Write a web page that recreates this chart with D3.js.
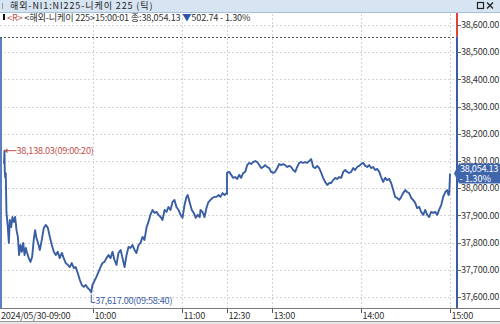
<!DOCTYPE html>
<html><head><meta charset="utf-8">
<script src="https://cdn.jsdelivr.net/npm/d3@7"></script>
<style>
html,body{margin:0;padding:0;background:#fff;}
svg{display:block;}
text{font-family:"Noto Sans CJK KR","Noto Sans",sans-serif;}
</style></head>
<body><svg id="c" width="500" height="324"></svg>
<script>
// ---- data ----
const times = ["09:00:00","09:00:20","09:00:30","09:00:50","09:01:10","09:01:40","09:02:35","09:03:15","09:03:55","09:04:50",
"09:05:40","09:06:35","09:07:30","09:08:25","09:09:20","09:10:10","09:11:05","09:12:00","09:12:55","09:13:50",
"09:14:40","09:15:35","09:16:40","09:17:48","09:18:55","09:20:00","09:20:55","09:21:50","09:22:44","09:24:05",
"09:25:25","09:26:45","09:28:05","09:29:30","09:30:50","09:32:10","09:33:30","09:34:50","09:36:10","09:37:30",
"09:38:55","09:40:10","09:41:30","09:42:55","09:44:15","09:45:35","09:46:55","09:48:15","09:49:35","09:51:00",
"09:52:20","09:53:40","09:55:00","09:56:20","09:57:40","09:58:40","09:59:30","10:02:10","10:03:35","10:04:55",
"10:06:15","10:07:35","10:08:55","10:10:20","10:11:40","10:13:00","10:14:20","10:15:40","10:17:00","10:18:25",
"10:19:45","10:21:05","10:22:25","10:23:45","10:25:05","10:26:25","10:27:50","10:29:05","10:30:30","10:31:50",
"10:33:10","10:34:30","10:35:55","10:37:10","10:38:30","10:39:55","10:41:15","10:42:35","10:43:55","10:45:20",
"10:46:35","10:48:00","10:49:20","10:50:35","10:52:00","10:53:20","10:54:40","10:56:00","10:57:25","10:58:45",
"11:00:05","11:01:25","11:02:45","11:03:35","11:05:00","11:06:20","11:07:40","11:09:00","11:10:20","11:11:40",
"11:12:10","11:13:30","11:14:55","11:16:10","11:17:30","11:18:55","11:20:10","11:21:35","11:22:55","11:24:20",
"11:25:35","11:27:00","11:28:20","11:29:40","11:30:00",
"12:30:00","12:31:30","12:32:50","12:34:10","12:35:30","12:36:55","12:38:10","12:39:30","12:40:55","12:42:15",
"12:43:35","12:44:55","12:46:15","12:47:35","12:49:00","12:50:20","12:51:40","12:53:00","12:54:20","12:55:40",
"12:57:00","12:58:25","12:59:40","13:01:05","13:02:25","13:03:50","13:05:05","13:06:30","13:07:50","13:09:05",
"13:10:30","13:11:50","13:13:10","13:14:30","13:15:55","13:17:10","13:18:35","13:19:55","13:21:20","13:22:35",
"13:23:55","13:25:20","13:26:35","13:28:00","13:29:20","13:30:40","13:32:00","13:33:25","13:34:40","13:36:05",
"13:37:25","13:38:50","13:40:05","13:41:25","13:42:50","13:44:05","13:45:30","13:46:50","13:48:10","13:49:30",
"13:50:50","13:52:10","13:53:30","13:54:55","13:56:10","13:57:35","13:58:55","14:00:20","14:01:35","14:03:00",
"14:04:20","14:05:35","14:07:00","14:08:20","14:09:40","14:11:00","14:12:25","14:13:40","14:15:05","14:16:25",
"14:17:40","14:19:05","14:20:25","14:21:50","14:23:05","14:24:30","14:25:50","14:27:10","14:28:30","14:29:55",
"14:31:10","14:32:30","14:33:55","14:35:10","14:36:35","14:37:55","14:39:20","14:40:35","14:42:00","14:43:20",
"14:44:40","14:46:00","14:47:20","14:48:40","14:50:00","14:51:25","14:52:40","14:54:05","14:55:25","14:56:50",
"14:58:05","14:59:00","14:59:30","15:00:01"];
const prices = [38090,38138.03,38065,38040,38055,37909,37857,37799,37883,37857,
37894,37876,37894,37846,37821,37754,37791,37766,37799,37754,
37780,37762,37743,37729,37747,37810,37846,37817,37802,37773,
37810,37854,37865,37854,37821,37791,37766,37754,37766,37743,
37762,37743,37725,37718,37710,37725,37707,37710,37688,37663,
37644,37637,37644,37633,37626,37617,37644,37674,37692,37710,
37725,37729,37743,37754,37743,37766,37736,37718,37762,37773,
37743,37710,37754,37784,37780,37791,37773,37762,37791,37799,
37821,37810,37857,37876,37902,37920,37909,37913,37902,37894,
37883,37920,37913,37931,37920,37949,37957,37931,37920,37902,
37891,37938,37968,37975,37946,37920,37909,37891,37902,37894,
37920,37913,37894,37927,37949,37957,37964,37968,37968,37975,
37968,37982,37975,37982,37980,
38056,38060,38049,38038,38041,38034,38049,38038,38056,38060,
38085,38093,38089,38096,38100,38096,38085,38074,38078,38085,
38078,38074,38060,38056,38060,38074,38089,38085,38089,38085,
38078,38082,38078,38067,38060,38078,38093,38096,38093,38096,
38093,38100,38107,38078,38074,38082,38074,38056,38038,38023,
38012,38019,38019,38030,38038,38034,38041,38038,38060,38067,
38060,38056,38060,38074,38067,38078,38082,38089,38093,38082,
38078,38085,38074,38078,38067,38071,38060,38041,38023,38038,
38030,38034,38019,37993,37968,37964,37957,37968,37982,37993,
37986,37982,37964,37957,37946,37927,37931,37913,37902,37920,
37902,37894,37913,37909,37913,37902,37920,37938,37968,37986,
37993,37975,37980,38054.13];
const yTicks = [38600,38500,38400,38300,38200,38100,38000,37900,37800,37700,37600];
const xTickTimes = ["09:00","10:00","11:00","12:30","13:00","14:00","15:00"];
const xTickLabels = ["2024/05/30-09:00","10:00","11:00","12:30","13:00","14:00","15:00"];
const prevClose = 38556.87;
const lastPrice = 38054.13, change = 502.74, changePct = "- 1.30%";
const highLabel = "38,138.03(09:00:20)", highPrice = 38138.03, highTime = "09:00:20";
const lowLabel = "37,617.00(09:58:40)", lowPrice = 37617, lowTime = "09:58:40";

// ---- helpers ----
function tradeMin(t){
  const p=t.split(":").map(Number); const s=p[0]*3600+p[1]*60+(p[2]||0);
  const am=9*3600, amEnd=11.5*3600, pm=12.5*3600;
  return s<=amEnd ? (s-am)/60 : 150+(s-pm)/60;
}
const svg=d3.select("#c");
const x=d3.scaleLinear().domain([0,300]).range([4,450]);
const y=d3.scaleLinear().domain([37600,38600]).range([297,25]);
const fmt=d3.format(",.2f");
const blue="#3a5ea4", red="#c0504d";

svg.append("rect").attr("x",0).attr("y",0).attr("width",500).attr("height",324).attr("fill","#fff");

// grid
const g=svg.append("g");
g.selectAll("line.h").data(yTicks).join("line")
 .attr("x1",0).attr("x2",456).attr("y1",d=>Math.round(y(d))+0.5).attr("y2",d=>Math.round(y(d))+0.5)
 .attr("stroke","#d4d4d4").attr("stroke-dasharray","2,2");
g.selectAll("line.v").data(xTickTimes.slice(1)).join("line")
 .attr("x1",d=>Math.round(x(tradeMin(d)))+0.5).attr("x2",d=>Math.round(x(tradeMin(d)))+0.5)
 .attr("y1",14).attr("y2",308).attr("stroke","#d4d4d4").attr("stroke-dasharray","2,2");

// previous close dotted line
svg.append("line").attr("x1",0).attr("x2",456).attr("y1",Math.round(y(prevClose))+0.5).attr("y2",Math.round(y(prevClose))+0.5)
 .attr("stroke","#555").attr("stroke-dasharray","2,2");

// price line
const pts=times.map((t,i)=>[tradeMin(t),prices[i]]);
svg.append("path").datum(pts).attr("fill","none").attr("stroke",blue).attr("stroke-width",1.9)
 .attr("stroke-linejoin","round")
 .attr("d",d3.line().x(d=>x(d[0])).y(d=>y(d[1])));

// left edge line
svg.append("line").attr("x1",1).attr("x2",1).attr("y1",38).attr("y2",308).attr("stroke","#5b7fbf").attr("stroke-width",2);

// right edge line (red above prev close, blue below)
svg.append("line").attr("x1",457).attr("x2",457).attr("y1",13).attr("y2",y(prevClose)).attr("stroke","#d9463b").attr("stroke-width",2);
svg.append("line").attr("x1",457).attr("x2",457).attr("y1",y(prevClose)).attr("y2",308).attr("stroke",blue).attr("stroke-width",2);

// right axis
const ra=svg.append("g");
ra.selectAll("line").data(yTicks).join("line")
 .attr("x1",457).attr("x2",461).attr("y1",d=>Math.round(y(d))+0.5).attr("y2",d=>Math.round(y(d))+0.5).attr("stroke","#666");
ra.selectAll("text").data(yTicks).join("text")
 .attr("x",461).attr("y",d=>y(d)).attr("dy","0.35em").attr("font-size",9.2).attr("fill","#333")
 .attr("letter-spacing","-0.3").text(d=>fmt(d));

// current price box
const yl=y(lastPrice);
svg.append("path").attr("d",`M454,${yl} L459,${yl-10} L500,${yl-10} L500,${yl+10} L459,${yl+10} Z`).attr("fill","#3f66ad");
svg.append("text").attr("x",460).attr("y",yl-4.5).attr("dy","0.35em").attr("font-size",9.2).attr("fill","#fff").attr("letter-spacing","-0.3").text(fmt(lastPrice));
svg.append("text").attr("x",491).attr("y",yl+5.5).attr("dy","0.35em").attr("text-anchor","end").attr("font-size",9.2).attr("fill","#fff").text(changePct);

// high annotation
const hx=x(tradeMin(highTime)), hy=y(highPrice);
svg.append("line").attr("x1",hx+1).attr("x2",hx+12).attr("y1",hy).attr("y2",hy).attr("stroke",red);
svg.append("path").attr("d",`M${hx},${hy} l3,-2.5 l0,5 Z`).attr("fill",red);
svg.append("text").attr("x",hx+12).attr("y",hy).attr("dy","0.35em").attr("font-size",9.2).attr("fill",red).attr("letter-spacing","-0.3").text(highLabel);

// low annotation
const lx=x(tradeMin(lowTime)), ly=y(lowPrice);
svg.append("path").attr("d",`M${lx},${ly+2} L${lx},${ly+10} L${lx+4},${ly+10}`).attr("fill","none").attr("stroke",blue);
svg.append("text").attr("x",lx+4).attr("y",ly+8).attr("dy","0.35em").attr("font-size",9.2).attr("fill",blue).attr("letter-spacing","-0.3").text(lowLabel);

// x axis band
svg.append("rect").attr("x",0).attr("y",308).attr("width",500).attr("height",13).attr("fill","#fff");
svg.append("line").attr("x1",0).attr("x2",500).attr("y1",308.5).attr("y2",308.5).attr("stroke","#7a7a7a");
svg.append("line").attr("x1",0).attr("x2",500).attr("y1",321.5).attr("y2",321.5).attr("stroke","#9a9a9a");
const xa=svg.append("g");
xa.selectAll("line").data(xTickTimes.slice(1)).join("line")
 .attr("x1",d=>Math.round(x(tradeMin(d)))+0.5).attr("x2",d=>Math.round(x(tradeMin(d)))+0.5)
 .attr("y1",309).attr("y2",313).attr("stroke","#555");
xa.selectAll("text").data(xTickTimes).join("text")
 .attr("x",(d,i)=>i===0?1:Math.round(x(tradeMin(d)))+1.5).attr("y",315.5).attr("dy","0.35em")
 .attr("font-size",9.2).attr("fill","#333").attr("letter-spacing","-0.3").text((d,i)=>xTickLabels[i]);
svg.append("rect").attr("x",0).attr("y",322).attr("width",500).attr("height",2).attr("fill","#e8e8e8");

// title bar
svg.append("rect").attr("x",0).attr("y",0).attr("width",500).attr("height",12).attr("fill","#d7e4f2");
svg.append("line").attr("x1",0).attr("x2",500).attr("y1",12.5).attr("y2",12.5).attr("stroke","#a8bfd8");
svg.append("text").attr("x",10).attr("y",6.3).attr("dy","0.35em").attr("font-size",9).attr("letter-spacing","0.9").attr("fill","#222").text("해외-NI1:NI225-니케이 225 (틱)");
svg.append("rect").attr("x",477.5).attr("y",2.5).attr("width",6).attr("height",6).attr("fill","none").attr("stroke","#222").attr("stroke-width",1.2);
svg.append("path").attr("d","M487,2.5 L493,8.5 M493,2.5 L487,8.5").attr("stroke","#222").attr("stroke-width",1.3);
svg.append("rect").attr("x",2).attr("y",3).attr("width",1).attr("height",6).attr("fill","#999");

// info line
svg.append("rect").attr("x",3).attr("y",14).attr("width",2).attr("height",6).attr("fill","#111");
const info=svg.append("text").attr("x",7).attr("y",17.5).attr("dy","0.35em").attr("font-size",9.2).attr("letter-spacing","-0.2");
info.append("tspan").attr("fill",red).text("<R>");
info.append("tspan").attr("fill","#333").text(" <해외-니케이 225>15:00:01 종:"+fmt(lastPrice)+" ");
info.append("tspan").attr("fill","#2f55a6").text("▼");
info.append("tspan").attr("fill","#333").text(fmt(change)+" "+changePct);
</script></body></html>
